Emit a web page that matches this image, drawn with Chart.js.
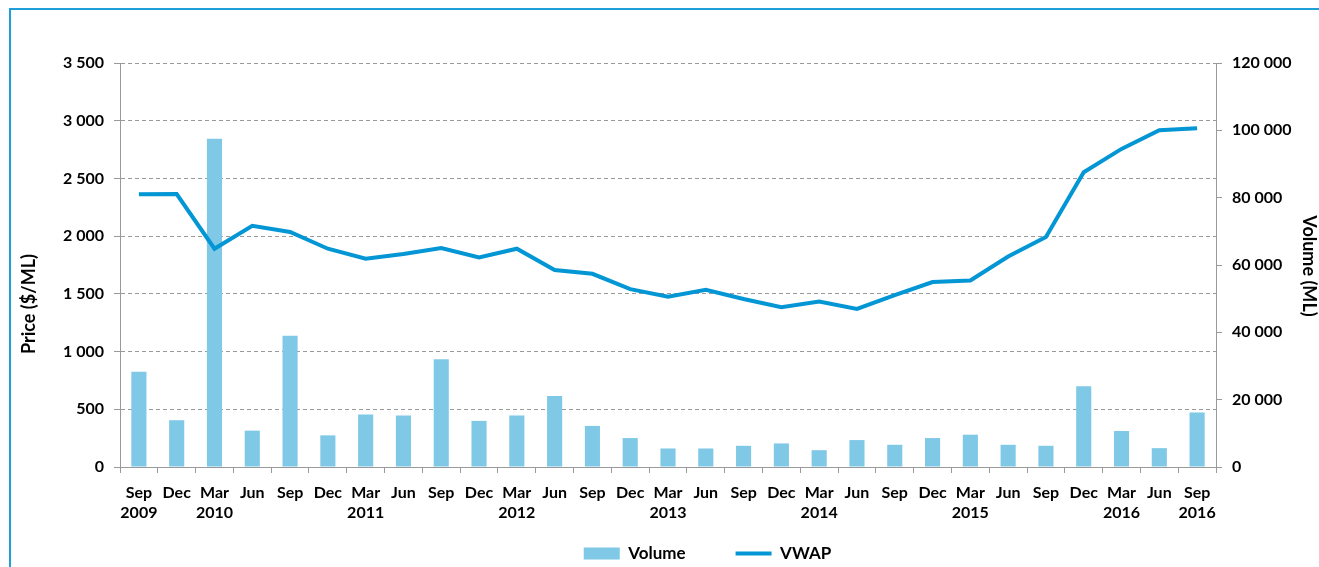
<!DOCTYPE html>
<html>
<head>
<meta charset="utf-8">
<script src="https://cdn.jsdelivr.net/npm/chart.js@4"></script>
<style>
  html, body { margin: 0; padding: 0; background: #fff; }
  #wrap { position: relative; width: 1319px; height: 567px; overflow: hidden; }
  #frame { position: absolute; left: 9px; top: 8px; width: 1400px; height: 600px;
           border-top: 2px solid #1f9fd8; border-left: 2px solid #1f9fd8; }
  canvas { position: absolute; left: 0; top: 0; }
</style>
</head>
<body>
<div id="wrap">
  <div id="frame"></div>
  <canvas id="chart" width="1319" height="567"></canvas>
</div>
<script>
// mois et années sous l'axe
const months = ["Sep","Dec","Mar","Jun","Sep","Dec","Mar","Jun","Sep","Dec",
                "Mar","Jun","Sep","Dec","Mar","Jun","Sep","Dec","Mar","Jun",
                "Sep","Dec","Mar","Jun","Sep","Dec","Mar","Jun","Sep"];
const years = ["2009","","2010","","","","2011","","","",
               "2012","","","","2013","","","","2014","",
               "","","2015","","","","2016","","2016"];

// Volume (ML) - axe de droite
const volume = [28300, 13900, 97500, 10800, 39000, 9400, 15600, 15300, 32000, 13700,
                15300, 21100, 12200, 8600, 5500, 5500, 6300, 7000, 5000, 8000,
                6600, 8600, 9600, 6600, 6300, 24000, 10700, 5600, 16200];

// VWAP ($/ML) - axe de gauche
const vwap = [2362, 2365, 1891, 2090, 2036, 1891, 1804, 1845, 1897, 1816,
              1891, 1706, 1674, 1541, 1475, 1535, 1455, 1385, 1434, 1370,
              1490, 1602, 1616, 1824, 1992, 2553, 2756, 2917, 2934];

const priceTitle = "Price ($/ML)";
const volumeTitle = "Volume (ML)";

const labels = months.map((m, i) => [m, years[i]]);

const FONT = "Lato";
const GRID = "#9a9a9a";

function spaced(v) {
  return String(v).replace(/\B(?=(\d{3})+(?!\d))/g, " ");
}

// titres des axes, dessinés à la main pour les placer comme sur l'original
const axisTitles = {
  id: "axisTitles",
  afterDraw(chart) {
    const ctx = chart.ctx;
    ctx.save();
    ctx.fillStyle = "#000";
    ctx.font = "bold 18px " + FONT;
    ctx.textAlign = "center";
    ctx.textBaseline = "middle";
    ctx.translate(29, 304);
    ctx.rotate(-Math.PI / 2);
    ctx.fillText(priceTitle, 0, 0);
    ctx.restore();

    ctx.save();
    ctx.fillStyle = "#000";
    ctx.font = "bold 18px " + FONT;
    ctx.textAlign = "center";
    ctx.textBaseline = "middle";
    ctx.translate(1309, 266);
    ctx.rotate(Math.PI / 2);
    ctx.fillText(volumeTitle, 0, 0);
    ctx.restore();
  }
};

// déplace la légende (elle n'est pas centrée sur l'original)
const legendShift = {
  id: "legendShift",
  afterLayout(chart) {
    const lg = chart.legend;
    lg.left += 28;
    lg.right += 28;
    lg.top = 495;
    lg.bottom = 567;
  }
};

new Chart(document.getElementById("chart"), {
  data: {
    labels: labels,
    datasets: [
      {
        type: "bar",
        label: "Volume",
        data: volume,
        yAxisID: "yVol",
        backgroundColor: "#7fc9e7",
        borderWidth: 0,
        categoryPercentage: 1,
        barPercentage: 0.4,
        order: 2
      },
      {
        type: "line",
        label: "VWAP",
        data: vwap,
        yAxisID: "yPrice",
        borderColor: "#0396d5",
        backgroundColor: "#0396d5",
        borderWidth: 4,
        pointRadius: 0,
        tension: 0,
        order: 1
      }
    ]
  },
  options: {
    responsive: false,
    animation: false,
    layout: { padding: { left: 40, right: 0, top: 63, bottom: 6 } },
    plugins: {
      tooltip: { enabled: false },
      legend: {
        position: "bottom",
        maxHeight: 34,
        labels: {
          usePointStyle: true,
          pointStyleWidth: 36,
          boxHeight: 12,
          padding: 50,
          color: "#000",
          font: { family: FONT, size: 17, weight: "bold" },
          generateLabels(chart) {
            return chart.data.datasets.map((ds, i) => ({
              text: ds.label,
              datasetIndex: i,
              fillStyle: ds.backgroundColor,
              strokeStyle: ds.type === "line" ? ds.borderColor : ds.backgroundColor,
              lineWidth: ds.type === "line" ? 4 : 0,
              pointStyle: ds.type === "line" ? "line" : "rect",
              hidden: false
            }));
          }
        }
      }
    },
    scales: {
      x: {
        offset: true,
        afterFit(scale) { scale.height = 60; },
        border: { display: true, color: GRID, width: 1 },
        grid: { offset: true, drawOnChartArea: false, drawTicks: true, tickLength: 6, color: GRID },
        ticks: {
          autoSkip: false,
          maxRotation: 0,
          padding: 10,
          color: "#000",
          font: { family: FONT, size: 16, weight: "bold", lineHeight: 1.25 }
        }
      },
      yPrice: {
        position: "left",
        min: 0,
        max: 3500,
        afterFit(scale) { scale.width = 80; },
        border: { display: true, color: GRID, width: 1, dash: [4, 3] },
        grid: { color: GRID, lineWidth: 1, tickLength: 6, tickBorderDash: [] },
        ticks: {
          stepSize: 500,
          padding: 10,
          color: "#000",
          font: { family: FONT, size: 16, weight: "bold" },
          callback: v => spaced(v)
        }
      },
      yVol: {
        position: "right",
        min: 0,
        max: 120000,
        afterFit(scale) { scale.width = 103; },
        border: { display: true, color: GRID, width: 1 },
        grid: { drawOnChartArea: false, tickLength: 6, color: GRID },
        ticks: {
          stepSize: 20000,
          padding: 10,
          color: "#000",
          font: { family: FONT, size: 16, weight: "bold" },
          callback: v => spaced(v)
        }
      }
    }
  },
  plugins: [axisTitles, legendShift]
});
</script>
</body>
</html>
